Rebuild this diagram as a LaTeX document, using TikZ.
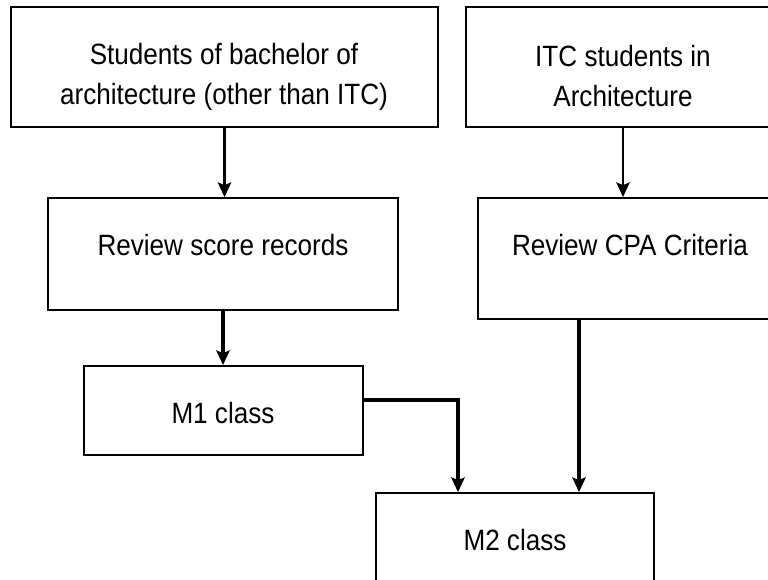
\documentclass[tikz,border=0pt]{standalone}
\usepackage{fontspec}
\setmainfont{Liberation Sans}[FakeStretch=0.89]
\usetikzlibrary{arrows.meta,calc}
\begin{document}
\begin{tikzpicture}[x=0.75pt, y=-0.75pt,
  box/.style 2 args={draw, line width=1.3pt, inner sep=0pt, minimum width=#1, minimum height=#2},
  txt/.style={align=center, inner sep=0pt, font=\fontsize{22pt}{30pt}\selectfont},
  arr/.style={-{Stealth[length=11pt,width=10pt,inset=2pt]}, line width=1.8pt},
  thickarr/.style={arr, line width=3.5pt}]

\useasboundingbox (0,0) rectangle (768,580);
\clip (0,0) rectangle (768,580);

% boxes
\node[box={320.25pt}{90pt}]   (stud)  at (224.5,67)  {};
\node[box={235.5pt}{90pt}]    (itc)   at (623,67)    {};
\node[box={262.5pt}{84pt}]    (score) at (223,254)   {};
\node[box={228pt}{90.75pt}]   (cpa)   at (630,258.5) {};
\node[box={209.25pt}{66.75pt}] (mone) at (223.5,410.5) {};
\node[box={208.5pt}{80.25pt}] (mtwo)  at (515,546.5) {};

% texts
\node[txt] (studtxt)  at (224,77)  {Students of bachelor of\\architecture (other than ITC)};
\node[txt] (itctxt)   at (623,76)  {ITC students in\\Architecture};
\node[txt] (scoretxt) at (223,245) {Review score records};
\node[txt] (cpatxt)   at (630,245) {Review CPA Criteria};
\node[txt] (monetxt)  at (223,413) {M1 class};
\node[txt] (mtwotxt)  at (515,540) {M2 class};

% arrows
\coordinate (mtwoL) at ($(mtwo.north)+(-57,0)$);
\coordinate (mtwoR) at ($(mtwo.north)+(64,0)$);

\draw[arr] (stud.south) -- (stud.south |- score.north);
\draw[arr] (itc.south) -- (itc.south |- cpa.north);
\draw[thickarr] (score.south) -- (score.south |- mone.north);
\draw[thickarr] ($(mone.east)+(0,-10.5)$) -| (mtwoL);
\draw[thickarr] (cpa.south -| mtwoR) -- (mtwoR);

\end{tikzpicture}
\end{document}
